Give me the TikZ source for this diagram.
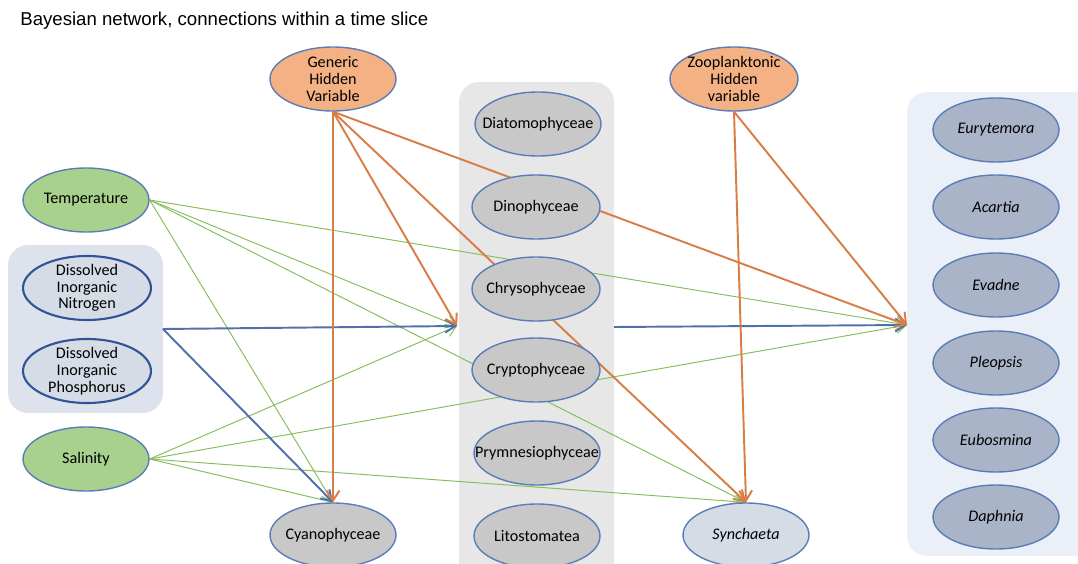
\documentclass[tikz,border=0pt]{standalone}
\usepackage{fontspec}
\setmainfont{Carlito}
\newfontfamily\titlefont{Liberation Sans}
\usetikzlibrary{shapes.geometric, arrows.meta, positioning}
\definecolor{bordeNodo}{RGB}{91,125,183}
\definecolor{ocultoFill}{RGB}{244,177,131}
\definecolor{climaFill}{RGB}{169,209,142}
\definecolor{fitoFill}{RGB}{200,200,200}
\definecolor{nutFill}{RGB}{214,220,229}
\definecolor{nutBorde}{RGB}{47,85,151}
\definecolor{zooFill}{RGB}{170,180,200}
\definecolor{nutCaja}{RGB}{222,226,236}
\definecolor{fitoCaja}{RGB}{231,231,231}
\definecolor{zooCaja}{RGB}{234,239,248}
\definecolor{lineaNaranja}{RGB}{216,125,70}
\definecolor{lineaVerde}{RGB}{134,190,90}
\definecolor{lineaAzul}{RGB}{79,112,170}
\pgfdeclarelayer{cajas}
\pgfdeclarelayer{flechas}
\pgfsetlayers{cajas,flechas,main}

\begin{document}
\begin{tikzpicture}[x=0.02cm, y=-0.02cm,
        var/.style={ellipse, draw=bordeNodo, line width=0.8pt, minimum width=2.52cm, minimum height=1.28cm, inner xsep=-10pt, inner ysep=-4pt, align=center, font=\fontsize{9.2}{9.5}\selectfont},
        caja/.style={rectangle, rounded corners=0.4cm, draw=none},
        flecha/.style={-{Straight Barb[length=0.2cm, width=0.26cm]}},
        naranja/.style={flecha, draw=lineaNaranja, line width=1.1pt},
        verde/.style={flecha, draw=lineaVerde, line width=0.55pt},
        azul/.style={flecha, draw=lineaAzul, line width=1.1pt}]

        \useasboundingbox (0,0) rectangle (1078,564);

        % Titulo
        \node[anchor=west, font=\titlefont\fontsize{10.6}{12}\selectfont, inner sep=0pt] (titulo) at (20,21) {Bayesian network, connections within a time slice};

        % Cajas de grupo
        \begin{pgfonlayer}{cajas}
        \node[caja, fill=nutCaja, minimum width=3.1cm, minimum height=3.36cm] (nutcaja) at (85.5,329) {};
        \node[caja, fill=fitoCaja, minimum width=3.1cm, minimum height=10.2cm] (fitocaja) at (536.5,337) {};
        \node[caja, fill=zooCaja, minimum width=4cm, minimum height=9.28cm] (zoocaja) at (1007,324) {};
        \end{pgfonlayer}

        % Puntos de llegada
        \coordinate (fitoIn) at (457,326);
        \coordinate (zooIn) at (907,325);
        \coordinate (nutOut) at (163,329);
        \coordinate (fitoOut) at (614,327);

        % Variables ocultas
        \node[var, fill=ocultoFill] (gen) at (333,79) {Generic\\Hidden\\Variable};
        \node[var, fill=ocultoFill, minimum width=2.56cm] (zoohid) at (734,79) {Zooplanktonic\\Hidden\\variable};

        % Ambiente
        \node[var, fill=climaFill] (temp) at (86,200) {Temperature};
        \node[var, fill=nutFill, draw=nutBorde, line width=1.2pt, minimum width=2.56cm] (din) at (87,288) {Dissolved\\Inorganic\\Nitrogen};
        \node[var, fill=nutFill, draw=nutBorde, line width=1.2pt, minimum width=2.56cm] (dip) at (87,371) {Dissolved\\Inorganic\\Phosphorus};
        \node[var, fill=climaFill] (sal) at (86,459) {Salinity};

        % Fitoplancton
        \node[var, fill=fitoFill] (diato) at (538,124) {Diatomophyceae};
        \node[var, fill=fitoFill, minimum width=2.56cm] (dino) at (536,207) {Dinophyceae};
        \node[var, fill=fitoFill, minimum width=2.56cm] (chryso) at (536,289) {Chrysophyceae};
        \node[var, fill=fitoFill, minimum width=2.56cm] (crypto) at (536,370) {Cryptophyceae};
        \node[var, fill=fitoFill] (prym) at (537,453) {Prymnesiophyceae};
        \node[var, fill=fitoFill] (lito) at (537,536) {Litostomatea};
        \node[var, fill=fitoFill] (cyano) at (333,535) {Cyanophyceae};

        % Zooplancton
        \node[var, fill=nutFill] (synch) at (746,535) {\itshape Synchaeta};
        \node[var, fill=zooFill] (eury) at (996,130) {\itshape Eurytemora};
        \node[var, fill=zooFill] (acar) at (996,207) {\itshape Acartia};
        \node[var, fill=zooFill] (evad) at (996,285) {\itshape Evadne};
        \node[var, fill=zooFill] (pleo) at (996,363) {\itshape Pleopsis};
        \node[var, fill=zooFill] (eubo) at (996,440) {\itshape Eubosmina};
        \node[var, fill=zooFill] (daph) at (996,517) {\itshape Daphnia};

        % Flechas
        \begin{pgfonlayer}{flechas}
        \draw[verde] (temp.east) -- (zooIn);
        \draw[verde] (temp.east) -- (fitoIn);
        \draw[verde] (temp.east) -- (synch.north);
        \draw[verde] (temp.east) -- (cyano.north);
        \draw[verde] (sal.east) -- (fitoIn);
        \draw[verde] (sal.east) -- (zooIn);
        \draw[verde] (sal.east) -- (synch.north);
        \draw[verde] (sal.east) -- (cyano.north);
        \draw[azul] (nutOut) -- (fitoIn);
        \draw[azul] (nutOut) -- (cyano.north);
        \draw[azul] (fitoOut) -- (zooIn);
        \draw[naranja] (gen.south) -- (cyano.north);
        \draw[naranja] (gen.south) -- (fitoIn);
        \draw[naranja] (gen.south) -- (zooIn);
        \draw[naranja] (gen.south) -- (synch.north);
        \draw[naranja] (zoohid.south) -- (synch.north);
        \draw[naranja] (zoohid.south) -- (zooIn);
        \end{pgfonlayer}
    \end{tikzpicture}
\end{document}
